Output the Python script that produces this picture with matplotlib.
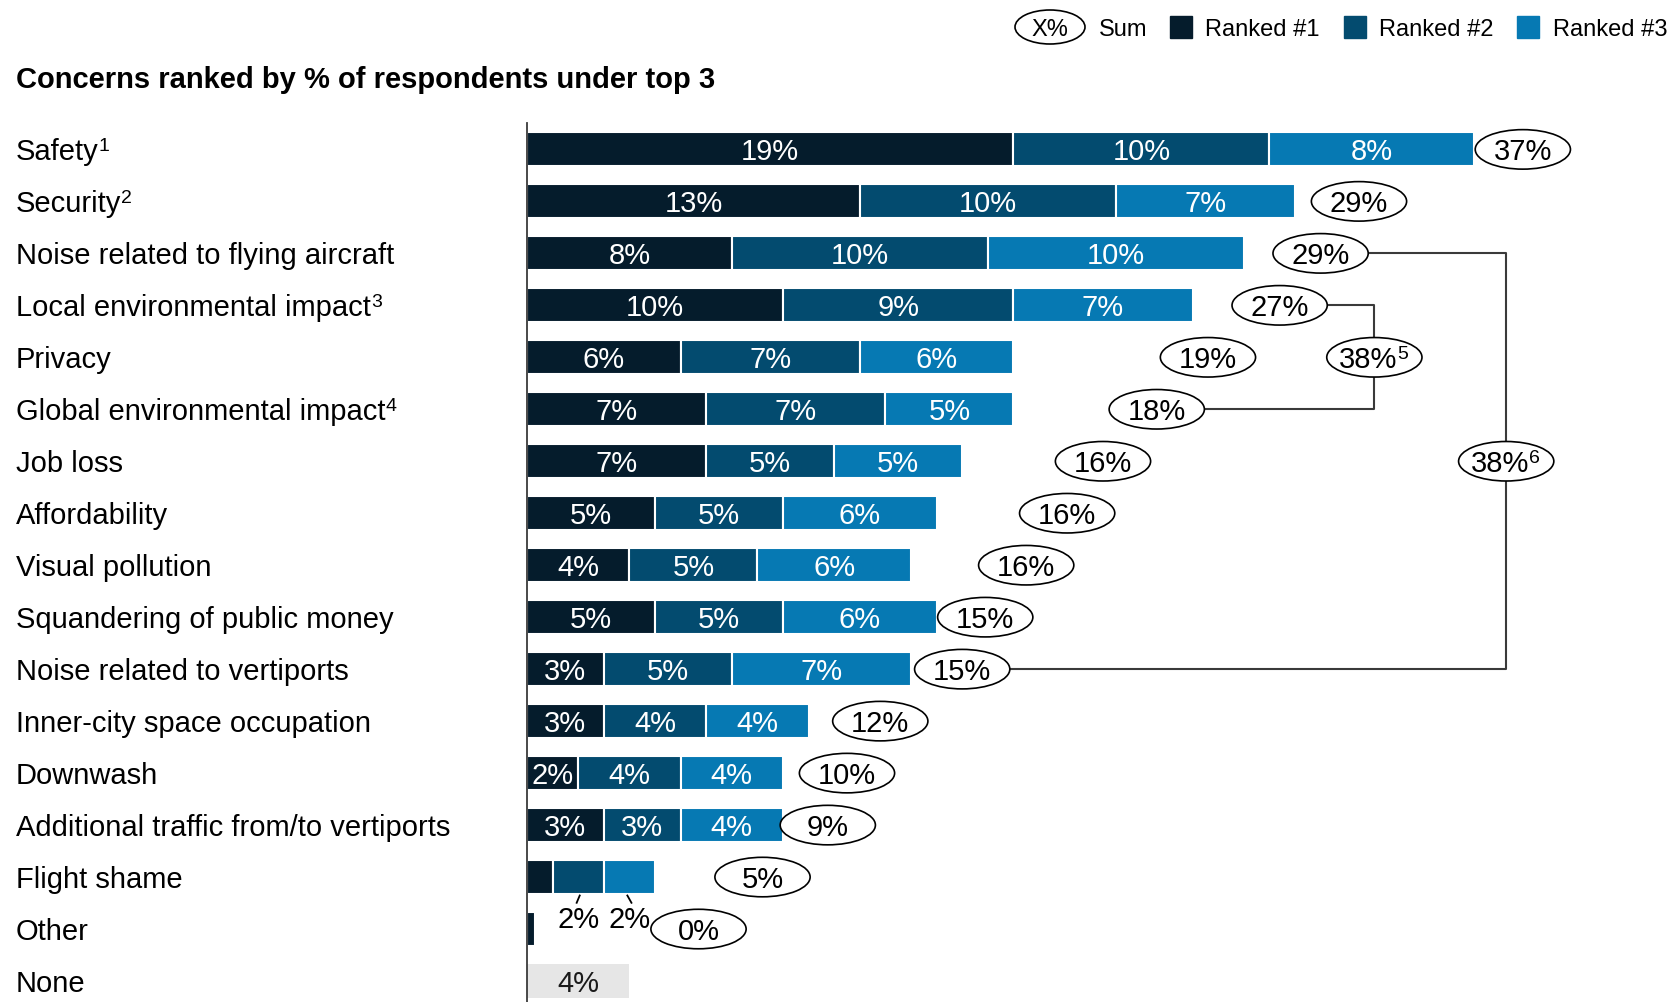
import matplotlib.pyplot as plt
from matplotlib.patches import Ellipse, Rectangle

plt.rcParams['font.family'] = ['Liberation Sans', 'DejaVu Sans']

concerns = ['Safety', 'Security', 'Noise related to flying aircraft',
            'Local environmental impact', 'Privacy', 'Global environmental impact',
            'Job loss', 'Affordability', 'Visual pollution',
            'Squandering of public money', 'Noise related to vertiports',
            'Inner-city space occupation', 'Downwash',
            'Additional traffic from/to vertiports', 'Flight shame', 'Other', 'None']
footnotes = ['1', '2', '', '3', '', '4', '', '', '', '', '', '', '', '', '', '', '']

ranked1 = [19, 13, 8, 10, 6, 7, 7, 5, 4, 5, 3, 3, 2, 3, 1, 0.3]
ranked2 = [10, 10, 10, 9, 7, 7, 5, 5, 5, 5, 5, 4, 4, 3, 2, 0]
ranked3 = [8, 7, 10, 7, 6, 5, 5, 6, 6, 6, 7, 4, 4, 4, 2, 0]
sums = [37, 29, 29, 27, 19, 18, 16, 16, 16, 15, 15, 12, 10, 9, 5, 0]
none_share = 4

# combined totals shown at the right (rows joined, value, footnote)
noise_combined = (2, 10, 38, '6')
environment_combined = (3, 5, 38, '5')

# horizontal placement of the sum ellipses, in % units
ellipse_x = [38.9, 32.5, 31.0, 29.4, 26.6, 24.6, 22.5, 21.1, 19.5, 17.9, 17.0,
             13.8, 12.5, 11.75, 9.2, 6.7]

colors = ['#051C2C', '#034B6F', '#0679B3']
grey_bar = '#E6E6E6'
line_col = '#3A3A3A'

W, H = 1673, 1002
fig = plt.figure(figsize=(W / 100, H / 100), dpi=100)

x0_px, px_per_pct = 527, 25.6
top_px, row_px, first_row_px = 123, 52, 149.4
ax = fig.add_axes([x0_px / W, 0, 1 - x0_px / W, 1 - top_px / H])
ax.set_xlim(0, (W - x0_px) / px_per_pct)
ax.set_ylim(-0.5 + (H - top_px) / row_px, -0.5 - (first_row_px - top_px - row_px / 2) / row_px)
for s in ['top', 'right', 'bottom']:
    ax.spines[s].set_visible(False)
ax.spines['left'].set_color(line_col)
ax.spines['left'].set_linewidth(1.3)
ax.set_xticks([])
ax.set_yticks([])

fs = 21
va = 'center_baseline'
bar_h = 0.65
n = len(ranked1)
for i in range(n):
    left = 0
    for j, vals in enumerate([ranked1, ranked2, ranked3]):
        v = vals[i]
        if v <= 0:
            continue
        ax.barh(i, v, left=left, height=bar_h, color=colors[j],
                edgecolor='white', linewidth=1.5)
        if i < 14:
            ax.text(left + v / 2, i, f'{v}%', color='white', fontsize=fs,
                    ha='center', va=va)
        elif i == 14 and j > 0:
            # small values are labelled underneath with a short leader
            cx = left + v / 2
            dx = 0.06 if j == 1 else -0.08
            ax.plot([cx + dx, cx - dx], [i + bar_h / 2 + 0.03, i + bar_h / 2 + 0.17],
                    color='black', lw=1.3)
            ax.text(cx, i + 0.77, f'{v}%', color='black', fontsize=fs,
                    ha='center', va=va)
        left += v

# "None" row
ax.barh(n, none_share, height=bar_h, color=grey_bar)
ax.text(none_share / 2, n, f'{none_share}%', color='#1A1A1A', fontsize=fs,
        ha='center', va=va)

ew, eh = 3.72, 0.76


def oval(x, y, label, sup=''):
    ax.add_patch(Ellipse((x, y), ew, eh, facecolor='white', edgecolor='black',
                         linewidth=1.2, zorder=3))
    t = ax.text(x - (0.25 if sup else 0), y, label, fontsize=fs, ha='center',
                va=va, zorder=4)
    if sup:
        ax.annotate(sup, xy=(1.0, 1.0), xycoords=t, fontsize=14, va='top',
                    ha='left', zorder=4)


for i, s in enumerate(sums):
    oval(ellipse_x[i], i, f'{s}%')

# bracket joining the two environmental rows
r_a, r_b, val, sup = environment_combined
bx = 33.1
ym = (r_a + r_b) / 2
ax.plot([ellipse_x[r_a] + ew / 2, bx, bx], [r_a, r_a, ym - eh / 2], color=line_col, lw=1.5)
ax.plot([bx, bx, ellipse_x[r_b] + ew / 2], [ym + eh / 2, r_b, r_b], color=line_col, lw=1.5)
oval(bx, ym, f'{val}%', sup)

# bracket joining the two noise rows
r_a, r_b, val, sup = noise_combined
bx, ym = 38.25, 6
ax.plot([ellipse_x[r_a] + ew / 2, bx, bx], [r_a, r_a, ym - eh / 2], color=line_col, lw=1.5)
ax.plot([bx, bx, ellipse_x[r_b] + ew / 2], [ym + eh / 2, r_b, r_b], color=line_col, lw=1.5)
oval(bx, ym, f'{val}%', sup)

# row labels
for i, name in enumerate(concerns):
    y = 1 - (first_row_px + i * row_px) / H
    t = fig.text(16 / W, y, name, fontsize=fs, ha='left', va=va)
    if footnotes[i]:
        ax.annotate(footnotes[i], xy=(1.0, 1.0), xycoords=t, fontsize=14,
                    va='top', ha='left', annotation_clip=False)

fig.text(16 / W, 1 - 77 / H, 'Concerns ranked by % of respondents under top 3',
         fontsize=21, fontweight='bold', ha='left', va=va)

# legend
ly = 1 - 27 / H
fig.patches.append(Ellipse((1050 / W, ly), 70 / W, 34 / H, transform=fig.transFigure,
                           facecolor='white', edgecolor='black', linewidth=1.2))
fig.text(1050 / W, ly, 'X%', fontsize=17, ha='center', va=va)
fig.text(1099 / W, ly, 'Sum', fontsize=17, ha='left', va=va)
for sx, tx, lab, c in [(1170, 1205, 'Ranked #1', colors[0]),
                       (1344, 1379, 'Ranked #2', colors[1]),
                       (1517, 1553, 'Ranked #3', colors[2])]:
    fig.patches.append(Rectangle((sx / W, 1 - 38 / H), 22 / W, 22 / H,
                                 transform=fig.transFigure, color=c))
    fig.text(tx / W, ly, lab, fontsize=17, ha='left', va=va)

fig.savefig('out.png', dpi=100)
